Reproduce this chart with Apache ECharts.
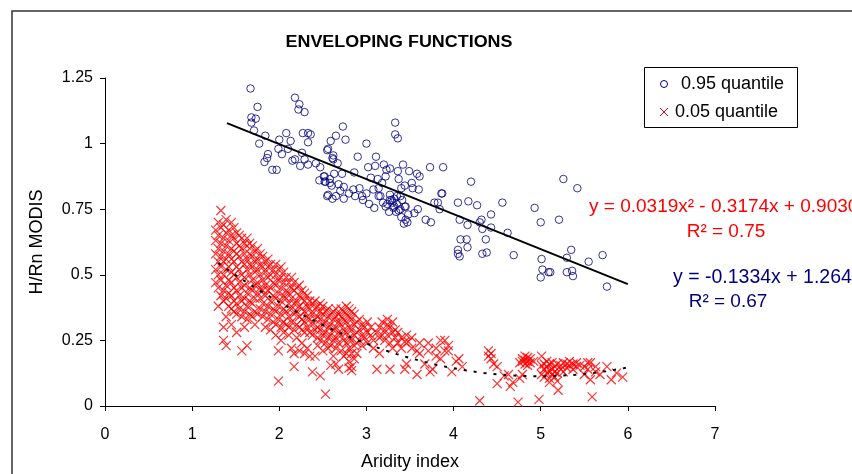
<!DOCTYPE html>
<html><head><meta charset="utf-8">
<script src="https://cdn.jsdelivr.net/npm/echarts@6/dist/echarts.min.js"></script>
<style>html,body{margin:0;padding:0;background:#fff;overflow:hidden}#c{width:852px;height:474px}</style>
</head><body><div id="c"></div>
<script>
const chartTitle = 'ENVELOPING FUNCTIONS';
const xTitle = 'Aridity index';
const yTitle = 'H/Rn MODIS';
const seriesNames = ['0.95 quantile', '0.05 quantile'];
const xTicks = [0, 1, 2, 3, 4, 5, 6, 7];
const yTicks = [0, 0.25, 0.5, 0.75, 1, 1.25];
// linear fit of 0.95 quantile: y = a*x + b
const linCoef = [-0.1334, 1.2647];
const linRange = [1.4, 6.0];
// polynomial fit of 0.05 quantile: y = a*x^2 + b*x + c
const polyCoef = [0.0319, -0.3174, 0.9030];
const polyRange = [1.3, 6.0];
const eqRed = ['y = 0.0319x² - 0.3174x + 0.9030', 'R² = 0.75'];
const eqBlue = ['y = -0.1334x + 1.2647', 'R² = 0.67'];

const q95Points = [
[1.67,1.21],[1.75,1.14],[1.68,1.10],[1.73,1.095],[1.68,1.08],[1.71,1.05],[1.77,1.00],[1.84,1.03],[1.87,0.96],[1.86,0.945],[1.83,0.93],[1.92,0.90],[1.97,0.90],
[2.18,1.175],[2.23,1.15],[2.22,1.13],[2.29,1.12],[2.08,1.04],[2.13,1.01],[2.00,1.015],[1.99,0.98],[2.03,0.96],[2.10,0.98],[2.15,0.935],[2.18,0.94],[2.24,0.915],[2.26,0.965],[2.29,0.94],[2.27,1.04],[2.33,1.04],[2.36,1.035],[2.33,1.005],[2.33,0.92],[2.42,0.925],[2.47,0.91],
[2.56,0.98],[2.59,1.01],[2.61,0.945],[2.52,0.875],[2.52,0.855],[2.58,0.865],[2.60,0.84],[2.56,0.805],
[2.73,1.065],[2.65,1.03],[2.76,1.015],[2.55,0.975],[2.62,0.955],[2.62,0.94],[2.67,0.925],[3.00,1.00],[3.33,1.08],[3.33,1.035],[3.36,1.02],[3.11,0.95],[3.10,0.915],[3.20,0.92],[3.23,0.90],[3.22,0.875],[3.27,0.905],
[2.86,0.89],[2.72,0.885],[2.63,0.885],[2.51,0.875],[2.53,0.855],[2.58,0.85],[2.68,0.845],[2.74,0.835],[2.55,0.80],[2.65,0.80],[2.74,0.79],[2.85,0.825],[2.92,0.83],[2.87,0.80],[2.95,0.80],[3.00,0.81],[2.96,0.785],[3.03,0.77],[3.09,0.755],[3.08,0.825],[3.18,0.85],
[3.37,0.865],[3.49,0.895],[3.58,0.885],[3.61,0.875],[3.52,0.85],[3.53,0.83],[3.60,0.825],[3.44,0.84],[3.40,0.83],[3.27,0.805],[3.29,0.785],[3.32,0.79],[3.35,0.77],[3.39,0.80],[3.22,0.76],[3.24,0.77],[3.32,0.76],[3.34,0.74],[3.39,0.75],[3.45,0.76],[3.40,0.72],[3.45,0.71],[3.43,0.695],[3.47,0.70],[3.55,0.735],[3.59,0.75],
[3.73,0.91],[3.88,0.91],[3.87,0.81],[3.78,0.775],[3.82,0.775],[3.84,0.75],[3.68,0.71],[3.74,0.70],
[4.20,0.855],[3.86,0.81],[4.05,0.775],[4.17,0.78],[4.27,0.765],[4.56,0.775],[4.43,0.73],[4.32,0.71],[4.30,0.70],[4.33,0.675],[4.43,0.68],[4.62,0.66],[4.07,0.71],[4.16,0.69],[4.08,0.635],[4.15,0.635],[4.37,0.635],[4.16,0.605],[4.05,0.595],[4.05,0.58],[4.07,0.57],[4.33,0.58],[4.38,0.585],[4.69,0.575],
[4.93,0.755],[5.00,0.70],[5.21,0.71],[5.26,0.865],[5.42,0.83],[5.01,0.56],[5.30,0.565],[5.35,0.595],[5.55,0.55],[5.71,0.575],[5.02,0.52],[5.09,0.51],[5.11,0.51],[5.00,0.49],[5.30,0.51],[5.36,0.515],[5.37,0.495],[5.76,0.455],
[3.14,0.80],[3.16,0.80],[3.27,0.785],[3.30,0.775],[3.35,0.80],[3.41,0.785],[3.44,0.76],[3.31,0.755],[3.37,0.745],[3.48,0.73],[3.26,0.74],[3.19,0.775],[2.80,0.81],[2.70,0.82],[2.61,0.79],[2.46,0.86],[3.05,0.87],[3.13,0.865],[2.90,0.95],[3.02,0.91],[3.14,0.83],[3.36,0.895],[3.42,0.92]
];

// 0.05 quantile: [x, [y values at that x]]
const q05Columns = [
[1.27,[0.47,0.52,0.58,0.63,0.67]],
[1.30,[0.45,0.50,0.55,0.60,0.65,0.70,0.38]],
[1.33,[0.42,0.48,0.53,0.57,0.62,0.68,0.745]],
[1.36,[0.40,0.44,0.50,0.55,0.59,0.64,0.69,0.30,0.25]],
[1.39,[0.41,0.46,0.52,0.56,0.61,0.66,0.71,0.34,0.23]],
[1.42,[0.38,0.43,0.48,0.53,0.58,0.63,0.67]],
[1.45,[0.37,0.42,0.47,0.51,0.56,0.60,0.65,0.70,0.31]],
[1.48,[0.36,0.40,0.45,0.50,0.55,0.59,0.64,0.68]],
[1.51,[0.35,0.39,0.44,0.49,0.53,0.58,0.62,0.66,0.28]],
[1.54,[0.37,0.42,0.47,0.52,0.57,0.61,0.65]],
[1.57,[0.34,0.40,0.45,0.50,0.55,0.60,0.64,0.21]],
[1.60,[0.36,0.41,0.46,0.49,0.54,0.58,0.62,0.30]],
[1.63,[0.33,0.38,0.43,0.52,0.56,0.61,0.64,0.23]],
[1.66,[0.35,0.40,0.45,0.50,0.54,0.58,0.62]],
[1.69,[0.34,0.39,0.44,0.48,0.53,0.57,0.61]],
[1.72,[0.36,0.41,0.46,0.51,0.55,0.59,0.31]],
[1.75,[0.35,0.43,0.47,0.52,0.56,0.60]],
[1.78,[0.37,0.41,0.45,0.50,0.54,0.58]],
[1.81,[0.34,0.39,0.44,0.48,0.53,0.57]],
[1.84,[0.36,0.42,0.46,0.51,0.55,0.30]],
[1.87,[0.33,0.38,0.44,0.49,0.53,0.56]],
[1.90,[0.35,0.40,0.45,0.50,0.54,0.29]],
[1.93,[0.32,0.37,0.42,0.47,0.52]],
[1.96,[0.31,0.36,0.41,0.46,0.50,0.54,0.27]],
[1.99,[0.33,0.38,0.43,0.48,0.52,0.21,0.095]],
[2.02,[0.30,0.35,0.40,0.45,0.49,0.53,0.25]],
[2.05,[0.32,0.37,0.42,0.47,0.51,0.28]],
[2.08,[0.31,0.36,0.41,0.44,0.49]],
[2.11,[0.30,0.34,0.39,0.43,0.47,0.27]],
[2.14,[0.32,0.37,0.41,0.45,0.49,0.22]],
[2.17,[0.29,0.35,0.39,0.44,0.47,0.20,0.15]],
[2.20,[0.31,0.36,0.40,0.45,0.26]],
[2.23,[0.30,0.34,0.38,0.42,0.46,0.21]],
[2.26,[0.29,0.33,0.37,0.41,0.44,0.24]],
[2.29,[0.28,0.32,0.36,0.40,0.43,0.20]],
[2.32,[0.30,0.34,0.38,0.42,0.22]],
[2.35,[0.28,0.33,0.37,0.40,0.19]],
[2.38,[0.27,0.31,0.35,0.39,0.13]],
[2.41,[0.29,0.33,0.37,0.40,0.19]],
[2.44,[0.26,0.30,0.34,0.38,0.23]],
[2.47,[0.25,0.29,0.33,0.36,0.39,0.115]],
[2.50,[0.27,0.31,0.35,0.38,0.21]],
[2.53,[0.24,0.28,0.32,0.36,0.045]],
[2.56,[0.26,0.30,0.34,0.37,0.22]],
[2.59,[0.23,0.27,0.31,0.35,0.155]],
[2.62,[0.25,0.29,0.33,0.36,0.19]],
[2.65,[0.22,0.26,0.30,0.34,0.37,0.16]],
[2.68,[0.24,0.28,0.32,0.35,0.14]],
[2.71,[0.21,0.27,0.31,0.34,0.37]],
[2.74,[0.25,0.29,0.33,0.36,0.19]],
[2.77,[0.20,0.24,0.28,0.32,0.35,0.38]],
[2.80,[0.17,0.22,0.26,0.30,0.34,0.37,0.145]],
[2.83,[0.15,0.20,0.25,0.29,0.33,0.36,0.135]],
[2.86,[0.18,0.23,0.27,0.31,0.35]],
[2.89,[0.24,0.28,0.32,0.20]],
[2.92,[0.25,0.29,0.33]],
[2.95,[0.27,0.31,0.23]],
[2.98,[0.26,0.30]],
[3.01,[0.24,0.28,0.32]],
[3.05,[0.27,0.30]],
[3.08,[0.25,0.22]],
[3.12,[0.28,0.14]],
[3.15,[0.30,0.26,0.20]],
[3.18,[0.27,0.32]],
[3.21,[0.29,0.25]],
[3.24,[0.31,0.27,0.33]],
[3.27,[0.30,0.14,0.24]],
[3.30,[0.32,0.28,0.22]],
[3.33,[0.26,0.29]],
[3.36,[0.24,0.28]],
[3.40,[0.26,0.22]],
[3.44,[0.245,0.14]],
[3.46,[0.16,0.27]],
[3.48,[0.245]],
[3.52,[0.22,0.26]],
[3.58,[0.12,0.21]],
[3.61,[0.20,0.24]],
[3.67,[0.16]],
[3.71,[0.24,0.21]],
[3.73,[0.13]],
[3.76,[0.14]],
[3.80,[0.19,0.22]],
[3.85,[0.25,0.18]],
[3.90,[0.25,0.21]],
[3.94,[0.21,0.23]],
[3.98,[0.13]],
[4.03,[0.17]],
[4.06,[0.18]],
[4.10,[0.15]],
[4.30,[0.02]],
[4.40,[0.19,0.21]],
[4.43,[0.20,0.18]],
[4.46,[0.16]],
[4.50,[0.15,0.085]],
[4.58,[0.115]],
[4.63,[0.12]],
[4.65,[0.075]],
[4.68,[0.09]],
[4.74,[0.015]],
[4.76,[0.105,0.165]],
[4.79,[0.17,0.18,0.12]],
[4.82,[0.16,0.175,0.19]],
[4.85,[0.17,0.155,0.185]],
[4.88,[0.165,0.18]],
[4.92,[0.17]],
[4.98,[0.025]],
[5.01,[0.19,0.155,0.12]],
[5.04,[0.14,0.16,0.11]],
[5.07,[0.15,0.125,0.17]],
[5.10,[0.135,0.105,0.16,0.09]],
[5.13,[0.14,0.12,0.165]],
[5.16,[0.15,0.13,0.11]],
[5.19,[0.16,0.125,0.095]],
[5.20,[0.06]],
[5.23,[0.155,0.14]],
[5.26,[0.165,0.13]],
[5.30,[0.16,0.145]],
[5.33,[0.155,0.17]],
[5.37,[0.16,0.14]],
[5.41,[0.15,0.165]],
[5.45,[0.155]],
[5.50,[0.15,0.12]],
[5.54,[0.165,0.14]],
[5.57,[0.165,0.10]],
[5.59,[0.035]],
[5.63,[0.15,0.13]],
[5.68,[0.12]],
[5.76,[0.15]],
[5.81,[0.10]],
[5.87,[0.125]],
[5.94,[0.11]]
];

const q05Points = [];
q05Columns.forEach(c => c[1].forEach(y => q05Points.push([c[0], y])));

const linLine = linRange.map(x => [x, linCoef[0] * x + linCoef[1]]);
const polyLine = [];
for (let x = polyRange[0]; x <= polyRange[1] + 1e-9; x += 0.05) {
  polyLine.push([x, polyCoef[0] * x * x + polyCoef[1] * x + polyCoef[2]]);
}

const FONT = 'Arial, "Liberation Sans", sans-serif';
const chart = echarts.init(document.getElementById('c'), null, { renderer: 'canvas' });
const crossPath = 'path://M0,0L10,10M10,0L0,10';
const NAVY = '#000080', RED = '#ff0000';

chart.setOption({
  animation: false,
  backgroundColor: '#fff',
  grid: { left: 105, right: 137, top: 78, bottom: 68, containLabel: false, outerBoundsMode: 'none' },
  xAxis: {
    type: 'value', min: 0, max: 7, interval: 1,
    name: xTitle, nameLocation: 'middle', nameGap: 47,
    nameTextStyle: { fontFamily: FONT, fontSize: 18, color: '#000' },
    axisLine: { show: true, lineStyle: { color: '#000', width: 1 } },
    axisTick: { show: true, length: 5, lineStyle: { color: '#000' } },
    axisLabel: { fontFamily: FONT, fontSize: 16, color: '#000', margin: 21 },
    splitLine: { show: false }
  },
  yAxis: {
    type: 'value', min: 0, max: 1.25, interval: 0.25,
    name: yTitle, nameLocation: 'middle', nameGap: 59, nameRotate: 90,
    nameTextStyle: { fontFamily: FONT, fontSize: 18, color: '#000' },
    axisLine: { show: true, lineStyle: { color: '#000', width: 1 } },
    axisTick: { show: true, length: 5, lineStyle: { color: '#000' } },
    axisLabel: { fontFamily: FONT, fontSize: 16, color: '#000', margin: 12,
      formatter: v => String(Math.round(v * 100) / 100) },
    splitLine: { show: false }
  },
  legend: { show: false },
  graphic: [
    { type: 'rect', shape: { x: 12, y: 11, width: 900, height: 500 }, style: { fill: 'none', stroke: '#333', lineWidth: 1.5 }, silent: true },
    { type: 'text', x: 399, y: 43, scaleX: 1.12, style: { text: chartTitle, font: 'bold 16px ' + FONT, fill: '#000', textAlign: 'center', textVerticalAlign: 'middle' } },
    // legend
    { type: 'rect', shape: { x: 644.5, y: 67.5, width: 153, height: 60 }, style: { fill: '#fff', stroke: '#000', lineWidth: 1 }, z: 10 },
    { type: 'circle', shape: { cx: 664, cy: 84, r: 3.5 }, style: { fill: 'none', stroke: NAVY, lineWidth: 1 }, z: 11 },
    { type: 'text', x: 681, y: 84, style: { text: seriesNames[0], font: '18px ' + FONT, fill: '#000', textAlign: 'left', textVerticalAlign: 'middle' }, z: 11 },
    { type: 'line', shape: { x1: 660, y1: 108, x2: 668, y2: 116 }, style: { stroke: RED, lineWidth: 1 }, z: 11 },
    { type: 'line', shape: { x1: 668, y1: 108, x2: 660, y2: 116 }, style: { stroke: RED, lineWidth: 1 }, z: 11 },
    { type: 'text', x: 675, y: 112, style: { text: seriesNames[1], font: '18px ' + FONT, fill: '#000', textAlign: 'left', textVerticalAlign: 'middle' }, z: 11 },
    // equations
    { type: 'text', x: 589, y: 207, style: { text: eqRed[0], font: '19px ' + FONT, fill: RED, textAlign: 'left', textVerticalAlign: 'middle' } },
    { type: 'text', x: 726, y: 232, style: { text: eqRed[1], font: '19px ' + FONT, fill: RED, textAlign: 'center', textVerticalAlign: 'middle' } },
    { type: 'text', x: 673, y: 278, style: { text: eqBlue[0], font: '19.5px ' + FONT, fill: NAVY, textAlign: 'left', textVerticalAlign: 'middle' } },
    { type: 'text', x: 728, y: 302, style: { text: eqBlue[1], font: '19px ' + FONT, fill: NAVY, textAlign: 'center', textVerticalAlign: 'middle' } }
  ],
  series: [
    {
      name: seriesNames[0], type: 'scatter', data: q95Points, symbol: 'circle', symbolSize: 7.5,
      itemStyle: { color: 'rgba(0,0,0,0)', borderColor: NAVY, borderWidth: 1 }, z: 3
    },
    {
      name: seriesNames[1], type: 'scatter', data: q05Points, symbol: crossPath, symbolSize: 9,
      itemStyle: { color: 'rgba(0,0,0,0)', borderColor: RED, borderWidth: 1.2 }, z: 2
    },
    {
      name: 'linear fit', type: 'line', data: linLine, showSymbol: false, symbol: 'none',
      lineStyle: { color: '#000', width: 2 }, z: 4, silent: true
    },
    {
      name: 'poly fit', type: 'line', data: polyLine, showSymbol: false, symbol: 'none', smooth: false,
      lineStyle: { color: '#000', width: 2, type: [3, 7] }, z: 4, silent: true
    }
  ]
});
</script></body></html>
